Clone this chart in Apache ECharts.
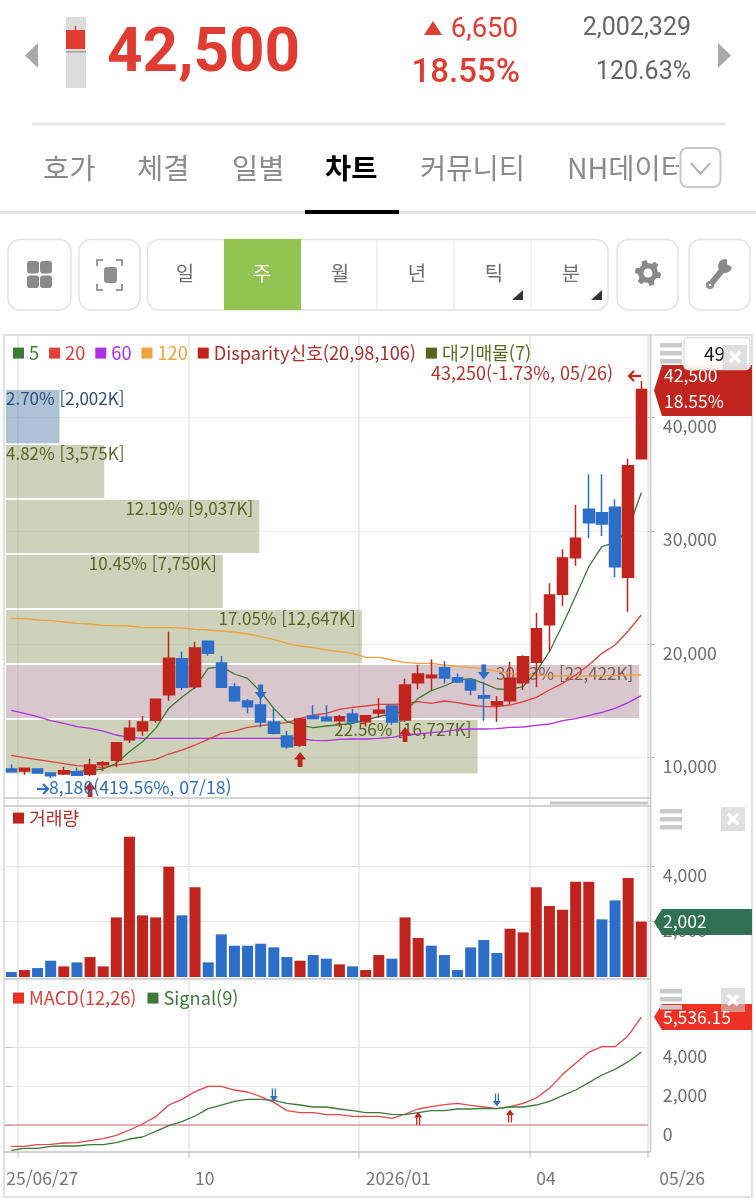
<!DOCTYPE html>
<html lang="ko">
<head>
<meta charset="utf-8">
<title>NH chart</title>
<style>html,body{margin:0;padding:0;background:#fff}#c{width:756px;height:1200px}</style>
<script src="https://cdn.jsdelivr.net/npm/echarts@6/dist/echarts.min.js"></script>
</head>
<body>
<div id="c"></div>
<script>
// ---------- data ----------
const weeks = ['25/06/27','07/04','07/11','07/18','07/25','08/01','08/08','08/15','08/22','08/29','09/05','09/12','09/19','09/26','10/03','10/10','10/17','10/24','10/31','11/07','11/14','11/21','11/28','12/05','12/12','12/19','12/26','26/01/02','01/09','01/16','01/23','01/30','02/06','02/13','02/20','02/27','03/06','03/13','03/20','03/27','04/03','04/10','04/17','04/24','05/01','05/08','05/15','05/22','05/26'];
const tickLabels = {0:'25/06/27',14:'10',27:'2026/01',40:'04',48:'05/26'};
const gridLineIdx = [1,14,27,40];

const opens  = [8965,8788,8965,8612,8523,8700,8493,9348,9730,11556,12352,13265,15532,18713,16239,20244,18330,16209,14973,14619,13117,11880,11056,13647,13530,13235,13824,13147,13912,14531,13294,16592,17034,17918,17034,16828,15444,14619,15002,16592,18389,21715,24395,27635,31908,31608,32085,25900,36378];
const closes = [8730,9024,8612,8376,8818,8405,9318,9524,11292,12558,13117,15120,18742,16180,19655,19184,16180,15002,14472,13117,12116,10938,13383,13412,13235,13588,13117,13677,14148,13117,16386,17358,17240,17005,16651,15945,15238,14914,16975,18890,21362,24336,27605,29343,30724,30610,26837,35760,42500];
const lows   = [8730,8465,8612,8180,8430,8405,8317,8788,9113,11262,11910,13058,15002,15945,16003,18978,16121,14914,13883,12646,12027,10761,10938,13412,13176,12705,12941,12705,13500,12852,13147,16003,15945,16504,16563,15473,13235,13117,14708,15945,16180,19331,23364,26928,29346,29549,25900,22862,36378];
const highs  = [9377,9024,8965,8612,9171,9083,9878,9672,11292,13265,13647,15179,21098,19331,20215,20303,18948,16592,15149,15500,14325,12322,13441,14590,14590,13735,14295,13677,15208,14531,16946,18183,18654,18507,17417,16828,16681,15414,18448,19007,22775,25367,28371,32288,35000,35000,32791,36378,43250];

const ma5   = [null,null,null,null,8729,8729,8876,8965,9466,10496,11380,12558,14325,15297,16180,17859,18006,17358,16975,15797,14325,13147,12852,12617,12764,12882,12999,13294,13588,13883,14030,15208,15886,16298,16828,16946,16533,16033,16004,16239,17564,19331,21686,24248,26840,28606,28960,30079,33374];
const ma20  = [10172,9966,9789,9613,9436,9259,9171,9112,9318,9465,9642,9819,10290,10643,11085,11585,12116,12322,12646,12793,12941,13058,13441,13736,13883,14236,14413,14531,14678,14678,14708,14914,14767,14973,14825,14619,14472,14472,14619,14914,15297,15945,16533,17270,18153,19184,19920,21157,22571];
const ma60  = [14148,13883,13588,13235,12999,12705,12558,12322,11969,11763,11674,11674,11674,11674,11674,11674,11674,11674,11674,11674,11674,11674,11645,11498,11468,11586,11616,11616,11674,11763,11969,12057,12175,12263,12440,12499,12499,12528,12646,12676,12823,12941,13235,13412,13677,13971,14325,14825,15444];
const ma120 = [22276,22247,22129,22070,21952,21834,21776,21658,21628,21599,21481,21452,21452,21422,21304,21246,21157,21069,20892,20656,20421,20068,19832,19685,19478,19331,19184,18831,18831,18595,18389,18300,18300,18153,18006,17918,17800,17623,17417,17270,17270,17181,17181,17181,17181,17181,17240,17270,17270];

const profileLow  = [37740,32900,28040,23190,18330,13470,8570];
const profileHigh = [42447,37590,32730,27870,23010,18150,13290];
const profileVol  = [2002,3575,9037,7750,12647,22422,16727];
const profilePct  = ['2.70%','4.82%','12.19%','10.45%','17.05%','30.23%','22.56%'];
const profileKind = ['now','olive','olive','olive','olive','peak','olive'];

const buyIdx  = [6,22,30],  buyPrice  = [7155,9810,12014];
const sellIdx = [19,36],    sellPrice = [15770,17535];

const volume = [179,251,324,589,384,528,721,384,2155,5071,2227,2155,3987,2227,3240,528,1541,1131,1131,1203,1071,721,589,793,661,456,384,251,793,661,2155,1408,1131,793,251,1071,1336,866,1745,1613,3240,2565,2432,3444,3444,2083,2770,3577,2002];
const volumeUp = [0,1,0,0,1,0,1,1,1,1,1,1,1,0,1,0,0,0,0,0,0,0,1,0,0,1,0,1,1,0,1,1,0,0,0,0,0,0,1,1,1,1,1,1,1,0,0,1,1];

const macd   = [-1094,-1094,-1008,-991,-923,-906,-803,-701,-530,-256,51,427,1025,1316,1709,1982,1982,1794,1692,1453,1162,735,632,632,530,530,444,444,444,342,564,820,940,1042,1111,1008,923,837,940,1111,1384,1880,2598,3162,3726,4016,4016,4580,5536.15];
const signal = [-1299,-1196,-1196,-1094,-1077,-1077,-1008,-1008,-906,-718,-615,-325,-34,171,461,837,1025,1213,1316,1316,1265,1111,1025,923,923,820,735,632,632,547,530,632,735,735,820,820,854,837,923,923,1025,1213,1504,1794,2170,2563,2854,3247,3726];
const macdBaseline = [[0,0],[1,0]];
const macdBuyIdx = [31,38],  macdBuyVal = [342,461];
const macdSellIdx = [20,37], macdSellVal = [1538,1282];

// ---------- style ----------
const FONT = '"Noto Sans CJK KR","Noto Sans",sans-serif';
const RED = '#c0241c', BLUE = '#2d6ec9', HRED = '#e03c31';
const GREEN5 = '#3d7a37', RED20 = '#e2403c', PURPLE = '#b030e6', ORANGE = '#f0a23c';
const GRIDL = 4.75, GRIDW = 643.1;
const fmt = v => v.toLocaleString('en-US');
const ARROW_UP = 'path://M5 0L10 7L7 7L7 14L3 14L3 7L0 7Z';
const ARROW_DN = 'path://M3 0L7 0L7 7L10 7L5 14L0 7L3 7Z';
const DBL_UP = 'path://M5 0L10 6L7.6 6L7.6 14L6 14L6 6L4 6L4 14L2.4 14L2.4 6L0 6Z';
const DBL_DN = 'path://M2.4 0L4 0L4 8L6 8L6 0L7.6 0L7.6 8L10 8L5 14L0 8L2.4 8Z';

function zip(a, b) { return a.map((x, i) => [x, b[i]]); }

const hiddenCat = g => ({type:'category', gridIndex:g, data:weeks, show:false, boundaryGap:true});
function valueAxis(g, min, max, ticks, splitColor) {
  return {
    type:'value', gridIndex:g, position:'right', min, max, interval: ticks[1]-ticks[0],
    axisLine:{show:false},
    axisTick:{show:true, length:7, lineStyle:{color:'#c4c4c4'}, customValues:ticks},
    axisLabel:{show:true, margin:15, color:'#6f6f6f', fontSize:17.7, fontFamily:FONT, verticalAlign:'top',
      customValues:ticks, formatter:v => fmt(v)},
    splitLine:{show:true, showMinLine:true, showMaxLine:true, lineStyle:{color:splitColor, width:1}}
  };
}

// ---------- decoration helpers ----------
const g = [];
const rect = (x,y,w,h,fill,o={}) => g.push({type:'rect', silent:true, z:o.z||1, shape:{x,y,width:w,height:h,r:o.r||0}, style:{fill,stroke:o.stroke,lineWidth:o.lw||0,opacity:o.op==null?1:o.op}});
const txt = (x,y,s,size,fill,o={}) => g.push({type:'text', silent:true, z:o.z||5, x, y, style:{text:s,fontSize:size,fontFamily:o.ff||FONT,fontWeight:o.w||'normal',fill,align:o.a||'left',verticalAlign:'middle'}});
const ln = (x1,y1,x2,y2,stroke,lw=1,z=1) => g.push({type:'line', silent:true, z, shape:{x1,y1,x2,y2}, style:{stroke,lineWidth:lw}});
const poly = (pts,fill,z=2) => g.push({type:'polygon', silent:true, z, shape:{points:pts}, style:{fill}});
const circ = (cx,cy,r,fill,z=6) => g.push({type:'circle', silent:true, z, shape:{cx,cy,r}, style:{fill}});

// header
poly([[38,43],[38,68],[25,55.5]],'#a9a9a9');
poly([[718,43],[718,68],[731,55.5]],'#a9a9a9');
rect(66,17,20,71,'#dcdcdc');
ln(75.5,26,75.5,30,HRED,1.5,3);
rect(66,30,19,19,HRED,{z:3});
rect(66,51,20,1.5,'#a0a0a0',{z:3});
txt(107,55,'42,500',62,HRED,{ff:'Roboto',w:'bold'});
poly([[424,35],[442,35],[433,21]],HRED);
txt(518,30,'6,650',27.5,HRED,{ff:'Roboto',a:'right'});
txt(520,74,'18.55%',33,HRED,{ff:'Roboto',w:500,a:'right'});
txt(691,29,'2,002,329',25,'#666',{ff:'Roboto',a:'right'});
txt(691,73,'120.63%',25,'#666',{ff:'Roboto',a:'right'});
rect(32,122.5,694,3,'#e6e6e6');
// tabs
[['호가',43],['체결',137],['일별',232],['커뮤니티',420],['NH데이터',567]].forEach(t => txt(t[1],168,t[0],28.5,'#8b8b8b'));
txt(325,168,'차트',28.5,'#000',{w:'bold'});
rect(679,140,77,60,'#fff',{z:6});
rect(680.5,148,40,39,'#fff',{z:7,r:7,stroke:'#c9c9c9',lw:2});
g.push({type:'polyline',silent:true,z:8,shape:{points:[[691,163],[700.5,174],[710,163]]},style:{stroke:'#b5b5b5',lineWidth:2,fill:'none'}});
rect(0,211,756,2.5,'#e0e0e0');
rect(305,210,94,4,'#000',{z:3});
// toolbar
[[8,63],[79,61],[617,61],[689,61]].forEach(b => rect(b[0],239.5,b[1],70.5,'#fff',{r:12,stroke:'#e2e2e2',lw:1.5}));
rect(147.5,239.5,460.5,70.5,'#fff',{r:12,stroke:'#e2e2e2',lw:1.5});
rect(224,239,77,71,'#93c352',{z:2});
[377,454,531].forEach(x => ln(x,240,x,309,'#e6e6e6',1,2));
[['일',185,'#6e6e6e'],['주',262,'#fff'],['월',340,'#6e6e6e'],['년',417,'#6e6e6e'],['틱',494,'#6e6e6e'],['분',571,'#6e6e6e']].forEach(t => txt(t[1],273,t[0],20,t[2],{a:'center'}));
poly([[523,290],[523,300],[512,300]],'#333');
poly([[602,290],[602,300],[591,300]],'#333');
[[27,261],[40,261],[27,275.5],[40,275.5]].forEach(p => rect(p[0],p[1],12,12.5,'#8a8a8a',{r:3,z:3}));
rect(104,267,13,16,'#8f8f8f',{r:3,z:3});
[[97,266,97,260,103,260],[116,260,122,260,122,266],[122,284,122,290,116,290],[103,290,97,290,97,284]].forEach(c =>
  g.push({type:'polyline',silent:true,z:3,shape:{points:[[c[0],c[1]],[c[2],c[3]],[c[4],c[5]]]},style:{stroke:'#999',lineWidth:2,fill:'none',lineJoin:'round'}}));
// gear
(function(){ const pts=[], cx=648, cy=273; for(let i=0;i<48;i++){ const a=i/48*2*Math.PI, sec=Math.floor(((i+4)%8)/4); const r=sec? 9.8:13; pts.push([cx+r*Math.sin(a), cy-r*Math.cos(a)]); } poly(pts,'#8a8a8a',3); circ(cx,cy,4.5,'#fff',4); })();
// wrench
ln(710,285,724,268,'#8a8a8a',6,3); circ(710,285,4,'#8a8a8a',3); circ(725,266,7,'#8a8a8a',3);
poly([[727,259],[735,259],[733,268],[727,264]],'#fff',4);
circ(710,285,1.3,'#fff',4);

// chart frames
rect(4,335,748,862,'rgba(0,0,0,0)',{stroke:'#e2e2e2',lw:2,z:1});
rect(640,1158,12,12,'#fff',{z:3});
ln(650.5,335,650.5,1152,'#c4c4c4',1.5,3);
ln(4,798,650.5,798,'#c4c4c4',1.5,3);
ln(4,806,650.5,806,'#c4c4c4',1.5,3);
ln(4,979,650.5,979,'#c4c4c4',1.5,3);
ln(4,1152,650.5,1152,'#c4c4c4',1.5,3);
rect(550,801.5,98,3,'#c8c8c8',{z:3});

// pane controls
[[343,0],[809,0],[989,0]].forEach(p => { [0,8,16].forEach(d => rect(660,p[0]+d,22,4.5,'#c9c9c9',{z:8})); });
// tags
const tag=(yT,yB,fill)=>poly([[654,(yT+yB)/2],[662,yT],[752,yT],[752,yB],[662,yB]],fill,6);
tag(365,416,RED);
txt(664,375,'42,500',17.5,'#fff',{z:7});
txt(664,401,'18.55%',17.5,'#fff',{z:7});
tag(909,935,'#2f7152');
txt(663,921,'2,002',17.5,'#fff',{z:7});
tag(1004,1030,'#ee3124');
txt(663,1017,'5,536.15',17.5,'#fff',{z:7});
// close buttons and period input
rect(684,337.5,66,32,'rgba(255,255,255,0.94)',{r:4,stroke:'#dedede',lw:1.5,z:8});
txt(704,353.5,'49',19,'#111',{z:9});
[[723,345],[721,807],[721,988]].forEach(p => {
  rect(p[0],p[1],24,24,'rgba(205,205,205,0.62)',{z:10});
  ln(p[0]+7,p[1]+7,p[0]+17,p[1]+17,'#fff',3.5,11);
  ln(p[0]+17,p[1]+7,p[0]+7,p[1]+17,'#fff',3.5,11);
});
// high / low annotations
txt(431,373,'43,250(-1.73%, 05/26)',18,'#b5322a',{z:9});
ln(629,376,641,376,'#c0241c',2.2,9);
g.push({type:'polyline',silent:true,z:9,shape:{points:[[634,371],[629,376],[634,381]]},style:{stroke:'#c0241c',lineWidth:2.2,fill:'none'}});
txt(49,787,'8,180(419.56%, 07/18)',17.7,'#2f6fbf',{z:9});
ln(37,789,48,789,'#2f6fbf',2.2,9);
g.push({type:'polyline',silent:true,z:9,shape:{points:[[43,784],[48,789],[43,794]]},style:{stroke:'#2f6fbf',lineWidth:2.2,fill:'none'}});

// ---------- volume profile renderer ----------
const profileFill = {now:'rgba(94,134,174,0.5)', olive:'rgba(158,166,118,0.5)', peak:'rgba(178,144,156,0.5)'};
const profileText = {now:'#2e4f7e', olive:'#5b6426', peak:'#7a5a5e'};
function renderProfile(params, api) {
  const i = api.value(3);
  const a = api.coord([116, api.value(1)]);
  const b = api.coord([api.value(2), api.value(0)]);
  const kind = profileKind[i];
  const w = b[0]-a[0];
  const wide = w > 130;
  return {type:'group', children:[
    {type:'rect', shape:{x:a[0],y:a[1],width:w,height:b[1]-a[1]}, style:{fill:profileFill[kind]}},
    {type:'text', x: wide ? b[0]-6 : a[0], y:a[1]+9, style:{text:profilePct[i]+' ['+fmt(profileVol[i])+'K]', fontSize:17, fontFamily:FONT, fill:profileText[kind], align: wide?'right':'left', verticalAlign:'middle'}}
  ]};
}
const lineSeries = (name,data,color,xi=0,yi=0,extra={}) => Object.assign({
  name, type:'line', data, xAxisIndex:xi, yAxisIndex:yi, symbol:'none', smooth:false, connectNulls:false, silent:true, z:4,
  lineStyle:{color,width:1.3}, itemStyle:{color}
}, extra);
const marks = (name,xs,ys,sym,size,color,xi,yi) => ({
  name, type:'scatter', xAxisIndex:xi, yAxisIndex:yi, data:zip(xs,ys), symbol:sym, symbolSize:size, silent:true, z:6, itemStyle:{color,opacity:1}
});

// ---------- chart ----------
const chart = echarts.init(document.getElementById('c'), null, {renderer:'canvas'});
const legendBase = {orient:'horizontal', padding:0, itemWidth:11, itemHeight:11, selectedMode:false, icon:'rect', textStyle:{fontSize:18.2, fontFamily:FONT, color:'inherit'}};
const legItem = (name,color,textColor) => ({name, icon:'rect', itemStyle:{color,borderWidth:0}, lineStyle:{opacity:0}, textStyle:{color:textColor||color}});

chart.setOption({
  animation:false,
  backgroundColor:'#fff',
  textStyle:{fontFamily:FONT},
  tooltip:{show:false},
  graphic:{elements:g},
  legend:[
    Object.assign({}, legendBase, {left:13, top:344, itemGap:10, data:[
      legItem('5',GREEN5), legItem('20',RED20), legItem('60',PURPLE), legItem('120',ORANGE),
      legItem('Disparity신호(20,98,106)',RED,'#a8302c'), legItem('대기매물(7)','#56651c','#5b6a22')
    ]}),
    Object.assign({}, legendBase, {left:13, top:809, data:[legItem('거래량',RED,'#a8302c')]}),
    Object.assign({}, legendBase, {left:13, top:989, itemGap:11, data:[legItem('MACD(12,26)','#ee3124','#d9403c'), legItem('Signal(9)',GREEN5)]})
  ],
  grid:[
    {left:GRIDL, width:GRIDW, top:304.5, height:566},
    {left:GRIDL, width:GRIDW, top:811, height:166},
    {left:GRIDL, width:GRIDW, top:1008, height:156},
    {left:GRIDL, width:GRIDW, top:335, height:817}
  ],
  xAxis:[
    hiddenCat(0),
    {type:'value', gridIndex:0, position:'top', show:false, min:72, max:22724},
    hiddenCat(1),
    hiddenCat(2),
    {type:'category', gridIndex:3, boundaryGap:true, offset:11,
      data:weeks.map((w,i) => i===0 ? {value:w, textStyle:{align:'center', padding:[0,0,0,62]}}
                       : i===48 ? {value:w, textStyle:{align:'left', padding:[0,0,0,18]}} : w),
      axisLine:{show:false},
      axisTick:{show:true, length:6, alignWithLabel:false, interval:i=>gridLineIdx.includes(i), lineStyle:{color:'#d0d0d0',width:1.5}},
      splitLine:{show:true, interval:i=>gridLineIdx.includes(i), lineStyle:{color:'#e6e6e6',width:1.5}},
      axisLabel:{show:true, margin:7, align:'left', interval:i=>i in tickLabels, color:'#777', fontSize:17.5, fontFamily:FONT, verticalAlign:'top',
        formatter:(v,i)=>tickLabels[i]||''}},
    {type:'value', gridIndex:2, position:'top', show:false, min:0, max:1}
  ],
  yAxis:[
    valueAxis(0,0,50000,[10000,20000,30000,40000],'#efefef'),
    valueAxis(1,0,6000,[2000,4000],'#e4e4e4'),
    valueAxis(2,-2000,6000,[0,2000,4000],'#e6e6e6'),
    {type:'value', gridIndex:3, show:false, min:0, max:1}
  ],
  series:[
    {name:'대기매물(7)', type:'custom', xAxisIndex:1, yAxisIndex:0, renderItem:renderProfile, silent:true, z:1,
     itemStyle:{color:'#56651c'},
     encode:{x:2, y:[0,1]},
     data:profileLow.map((lo,i)=>[lo,profileHigh[i],profileVol[i],i])},
    {name:'axisHolder', type:'line', xAxisIndex:4, yAxisIndex:3, data:[], silent:true},
    lineSeries('120',ma120,ORANGE),
    lineSeries('60',ma60,PURPLE),
    lineSeries('20',ma20,RED20),
    lineSeries('5',ma5,GREEN5),
    {name:'Disparity신호(20,98,106)', type:'candlestick', xAxisIndex:0, yAxisIndex:0, barWidth:11, silent:true, z:5,
     itemStyle:{color:RED,color0:BLUE,borderColor:RED,borderColor0:BLUE,borderWidth:1.5},
     data:opens.map((o,i)=>[o,closes[i],lows[i],highs[i]])},
    marks('buy',buyIdx,buyPrice,ARROW_UP,[12,15],RED,0,0),
    marks('sell',sellIdx,sellPrice,ARROW_DN,[12,15],BLUE,0,0),
    {name:'거래량', type:'bar', xAxisIndex:2, yAxisIndex:1, barWidth:11, silent:true, z:3, itemStyle:{color:RED},
     data:volume.map((v,i)=>({value:v,itemStyle:{color:volumeUp[i]?RED:BLUE}}))},
    lineSeries('baseline',macdBaseline,'#d46a6a',5,2,{z:3,lineStyle:{color:'#d46a6a',width:1}}),
    lineSeries('MACD(12,26)',macd,'#e2464a',3,2),
    lineSeries('Signal(9)',signal,GREEN5,3,2),
    marks('macdBuy',macdBuyIdx,macdBuyVal,DBL_UP,[8,13],RED,3,2),
    marks('macdSell',macdSellIdx,macdSellVal,DBL_DN,[8,13],BLUE,3,2)
  ]
});
</script>
</body>
</html>
